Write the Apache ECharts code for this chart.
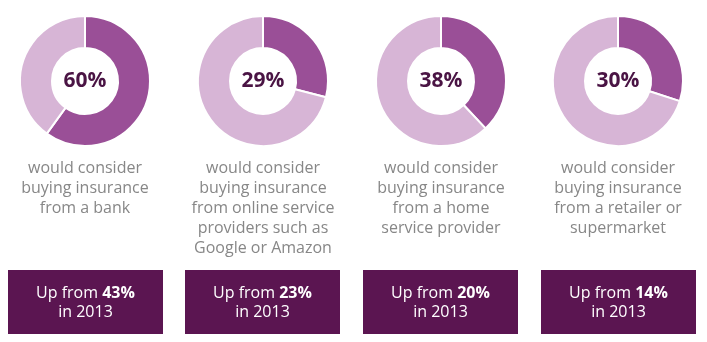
<!DOCTYPE html>
<html>
<head>
<meta charset="utf-8">
<script src="https://cdn.jsdelivr.net/npm/echarts@6/dist/echarts.min.js"></script>
<style>
  html, body { margin: 0; padding: 0; background: #ffffff; }
  #chart { width: 707px; height: 342px; }
</style>
</head>
<body>
<div id="chart"></div>
<script>
// Share of respondents who would consider each provider type
const shares = [60, 29, 38, 30];
// Share in 2013 for the same provider type
const previousShares = [43, 23, 20, 14];
const previousYear = 2013;
const descriptions = [
  'would consider\nbuying insurance\nfrom a bank',
  'would consider\nbuying insurance\nfrom online service\nproviders such as\nGoogle or Amazon',
  'would consider\nbuying insurance\nfrom a home\nservice provider',
  'would consider\nbuying insurance\nfrom a retailer or\nsupermarket'
];

const centersX = [85, 263, 441, 618];
const centerY = 81;
const DARK = '#9a4f97';
const LIGHT = '#d7b5d6';
const BOX = '#5b1551';
const FONT = '"Open Sans", Roboto, sans-serif';

const chart = echarts.init(document.getElementById('chart'), null, { renderer: 'canvas' });

const series = shares.map((v, i) => ({
  type: 'pie',
  center: [centersX[i], centerY],
  radius: [33, 65],
  startAngle: 90,
  clockwise: true,
  silent: true,
  animation: false,
  itemStyle: { borderColor: '#ffffff', borderWidth: 2 },
  labelLine: { show: false },
  emphasis: { disabled: true },
  data: [
    {
      value: v,
      itemStyle: { color: DARK },
      label: {
        show: true,
        position: 'center',
        formatter: v + '%',
        fontFamily: FONT,
        fontWeight: 'bold',
        fontSize: 21,
        color: '#4a1444'
      }
    },
    { value: 100 - v, itemStyle: { color: LIGHT }, label: { show: false } }
  ]
}));

const graphics = [];
descriptions.forEach((d, i) => {
  graphics.push({
    type: 'text',
    x: centersX[i],
    y: 158,
    style: {
      text: d,
      fill: '#878787',
      font: '16px ' + FONT,
      align: 'center',
      verticalAlign: 'top',
      lineHeight: 20
    },
    silent: true
  });
});

const boxLefts = [8, 185, 363, 541];
boxLefts.forEach((x, i) => {
  graphics.push({
    type: 'rect',
    shape: { x: x, y: 270, width: 155, height: 64 },
    style: { fill: BOX },
    silent: true
  });
  graphics.push({
    type: 'text',
    x: x + 77.5,
    y: 303,
    style: {
      text: '{n|Up from }{b|' + previousShares[i] + '%}\n{n|in ' + previousYear + '}',
      align: 'center',
      verticalAlign: 'middle',
      rich: {
        n: { fill: '#ffffff', fontSize: 16, fontFamily: FONT, lineHeight: 19 },
        b: { fill: '#ffffff', fontSize: 16, fontFamily: FONT, fontWeight: 'bold', lineHeight: 19 }
      }
    },
    silent: true
  });
});

chart.setOption({
  backgroundColor: '#ffffff',
  animation: false,
  series: series,
  graphic: graphics
});
</script>
</body>
</html>
